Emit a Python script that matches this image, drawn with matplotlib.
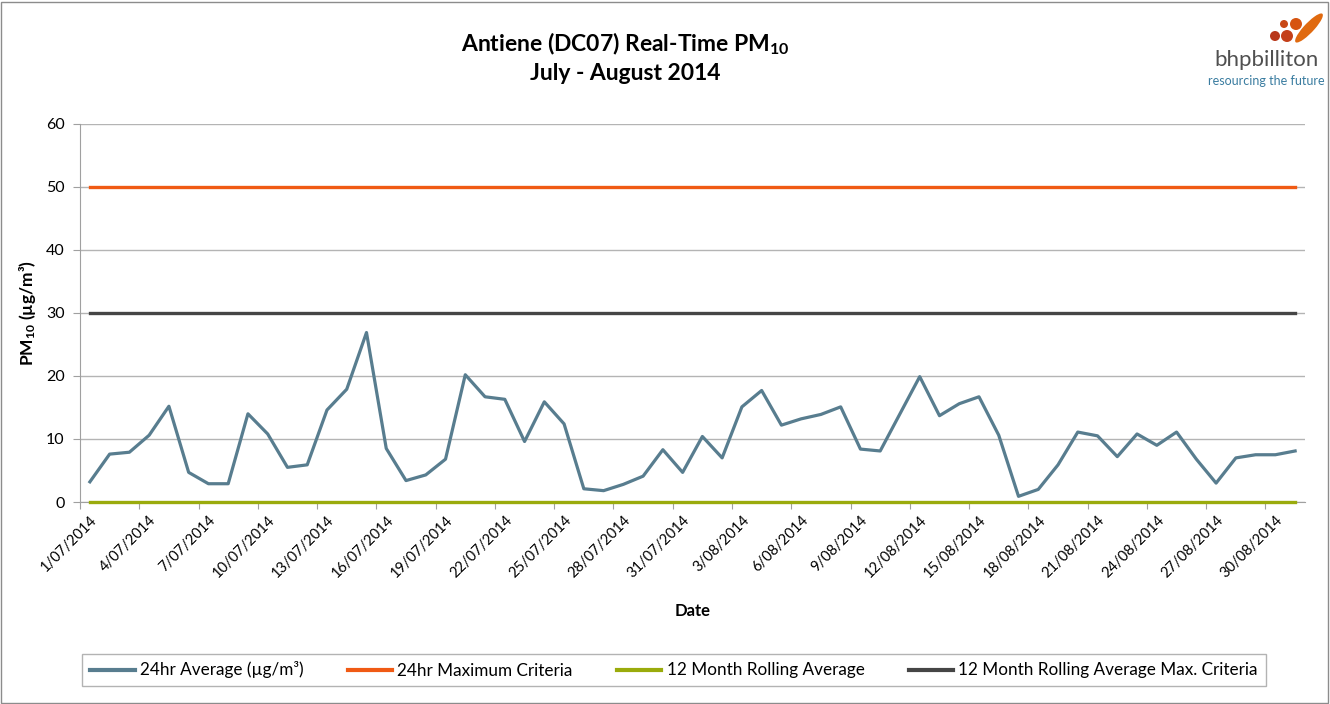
import matplotlib
matplotlib.use("Agg")
import matplotlib.pyplot as plt
import numpy as np
import pandas as pd
from matplotlib.patches import Rectangle, Ellipse

plt.rcParams["font.family"] = ["Lato", "DejaVu Sans"]
plt.rcParams["mathtext.default"] = "regular"

# 24hr average PM10 (ug/m3), 1 July - 31 August 2014
dates = pd.date_range("2014-07-01", "2014-08-31", freq="D")
pm10_24hr = [
    3.2, 7.6, 7.9, 10.6, 15.2, 4.7, 2.9, 2.9, 14.0, 10.8,
    5.5, 5.9, 14.6, 17.9, 26.9, 8.5, 3.4, 4.3, 6.8, 20.2,
    16.7, 16.3, 9.6, 15.9, 12.4, 2.1, 1.8, 2.8, 4.1, 8.3,
    4.7, 10.4, 7.0, 15.1, 17.7, 12.2, 13.2, 13.9, 15.1, 8.4,
    8.1, 14.0, 19.9, 13.7, 15.6, 16.7, 10.6, 0.9, 2.0, 5.9,
    11.1, 10.5, 7.2, 10.8, 9.0, 11.1, 6.8, 3.0, 7.0, 7.5,
    7.5, 8.1,
]
max_24hr = 50
rolling_avg = 0
rolling_max = 30
legend_labels = ["24hr Average (µg/m³)", "24hr Maximum Criteria",
                 "12 Month Rolling Average", "12 Month Rolling Average Max. Criteria"]

c_avg = "#587d8f"
c_max = "#f05a14"
c_roll = "#9aab0c"
c_rmax = "#454545"

fig = plt.figure(figsize=(13.3, 7.04), dpi=100)
ax = fig.add_axes([80 / 1330, 1 - 502 / 704, 1225 / 1330, 378 / 704])

x = np.arange(len(dates))
ones = np.ones(len(dates))
h1, = ax.plot(x, pm10_24hr, color=c_avg, lw=2.3, zorder=5)
h2, = ax.plot(x, max_24hr * ones, color=c_max, lw=2.4, zorder=4)
h3, = ax.plot(x, rolling_avg * ones, color=c_roll, lw=2.4, zorder=4, clip_on=False)
h4, = ax.plot(x, rolling_max * ones, color=c_rmax, lw=2.4, zorder=4)

ax.set_xlim(-0.5, len(dates) - 0.5)
ax.set_ylim(0, 60)
ax.set_yticks(range(0, 61, 10))
ax.grid(axis="y", color="#b4b4b4", lw=1)
ax.set_axisbelow(True)

# boundary ticks every 3 days, labels centred on categories
ax.set_xticks(np.arange(-0.5, len(dates), 3))
ax.set_xticklabels([])
label_pos = x[::3]
ax.set_xticks(label_pos, minor=True)
ax.set_xticklabels([f"{d.day}/{d:%m/%Y}" for d in dates[::3]], minor=True,
                   rotation=45, ha="right", rotation_mode="anchor", fontsize=10.5)
ax.tick_params(axis="x", which="major", length=5, color="#a0a0a0")
ax.tick_params(axis="x", which="minor", length=0, pad=8)
ax.tick_params(axis="y", length=5, color="#a0a0a0", labelsize=11.5, pad=6)

for s in ["top", "right"]:
    ax.spines[s].set_visible(False)
for s in ["left", "bottom"]:
    ax.spines[s].set_color("#a0a0a0")

ax.set_ylabel("PM$_{10}$ (µg/m³)", fontsize=12.5, fontweight="bold", labelpad=6)
ax.set_xlabel("Date", fontsize=12, fontweight="bold", labelpad=16)

fig.text(0.47, 1 - 44 / 704, "Antiene (DC07) Real-Time PM$_{10}$", ha="center",
         va="center", fontsize=16.5, fontweight="bold")
fig.text(0.47, 1 - 73 / 704, "July - August 2014", ha="center", va="center",
         fontsize=16.5, fontweight="bold")

leg = fig.legend([h1, h2, h3, h4], legend_labels, loc="center",
                 bbox_to_anchor=(674 / 1330, 1 - 670 / 704), ncol=4,
                 fontsize=12.3, frameon=True, fancybox=False, edgecolor="#a0a0a0",
                 handlelength=2.6, handletextpad=0.3, columnspacing=2.6,
                 borderpad=0.45)
leg.get_frame().set_linewidth(1)
for line in leg.get_lines():
    line.set_linewidth(3)

# outer chart border
fig.add_artist(Rectangle((1 / 1330, 1 / 704), 1327 / 1330, 701 / 704,
                         transform=fig.transFigure, fill=False,
                         edgecolor="#8c8c8c", lw=1))

# logo
fig.text(1266 / 1330, 1 - 60 / 704, "bhpbilliton", ha="center", va="center",
         fontsize=16, color="#505050")
fig.text(1266 / 1330, 1 - 81 / 704, "resourcing the future", ha="center",
         va="center", fontsize=9, color="#3a7ca0")
for cx, cy, r, col in [(1275, 36, 5, "#b8381a"), (1287, 36, 6, "#c4401a"),
                       (1284, 24, 4, "#c84816"), (1296, 24, 6, "#d65410")]:
    fig.add_artist(Ellipse((cx / 1330, 1 - cy / 704), 2 * r / 1330, 2 * r / 704,
                           transform=fig.transFigure, color=col, lw=0))
fig.add_artist(Ellipse((1309 / 1330, 1 - 28 / 704), 12 / 1330, 32 / 704,
                       angle=-25, transform=fig.transFigure, color="#e06a10", lw=0))

fig.savefig("out.png", dpi=100, facecolor="white")
